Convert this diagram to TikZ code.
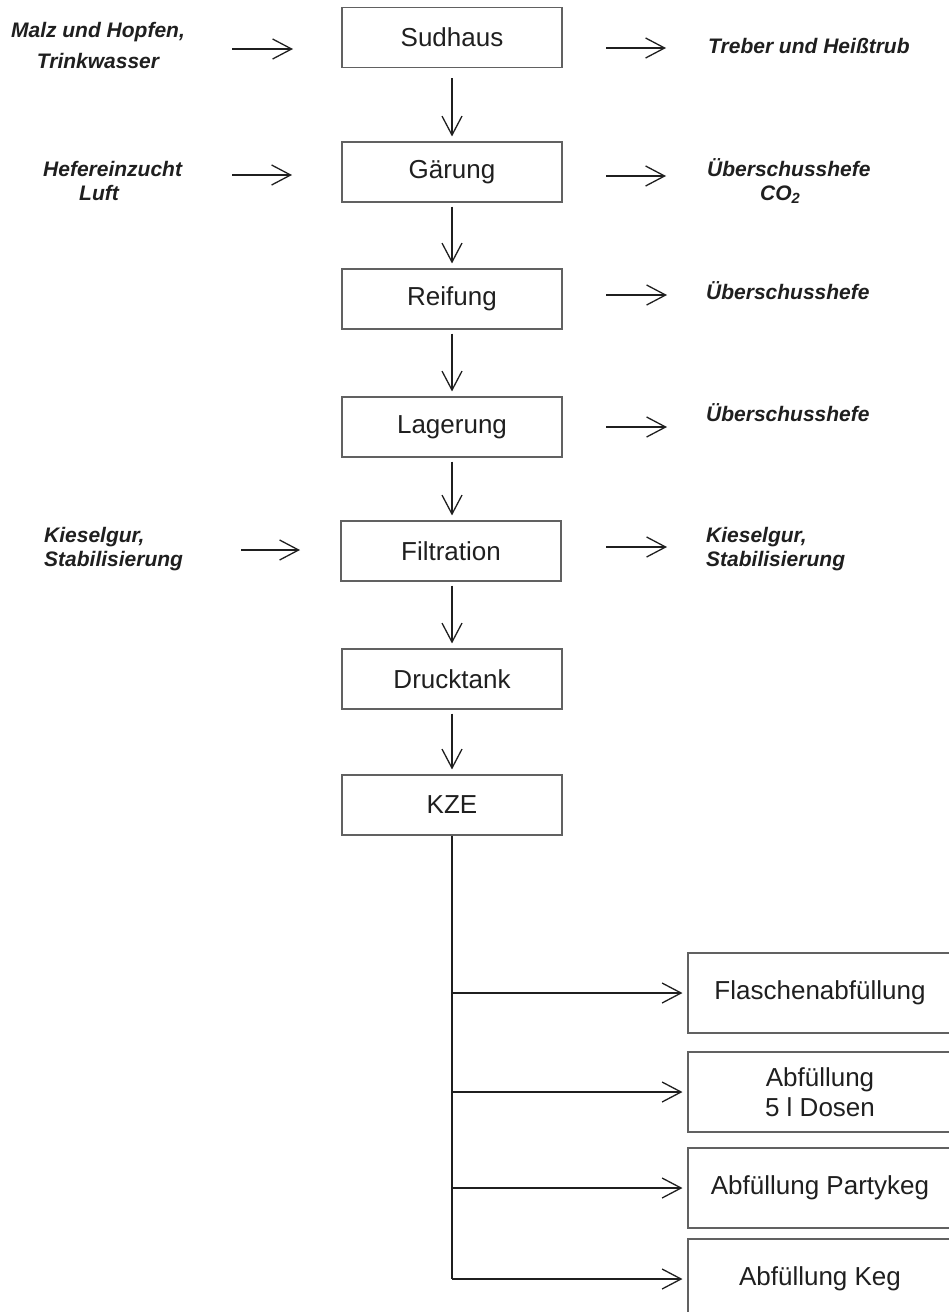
\documentclass[tikz,border=0pt]{standalone}
\usepackage{fontspec}
\setmainfont{Liberation Sans}
\usetikzlibrary{arrows.meta}
\definecolor{ink}{gray}{0.12}
\definecolor{frame}{gray}{0.38}
\begin{document}
\begin{tikzpicture}[x=1pt,y=-1pt,
  stage/.style={draw=frame, line width=1.1pt, minimum width=220pt, minimum height=60pt,
    inner sep=0pt, text=ink, font=\fontsize{26}{30}\selectfont},
  outlet/.style={draw=frame, line width=1.1pt, minimum width=264pt, minimum height=80pt,
    inner sep=0pt, text=ink, align=center, font=\fontsize{26}{30}\selectfont},
  side/.style={inner sep=0pt, text=ink, font=\bfseries\itshape\fontsize{21}{24}\selectfont},
  tip/.style={-{Straight Barb[length=19pt,width=20pt,line width=1.3pt]}, draw=ink},
  down/.style={tip, line width=1.2pt, shorten <=4pt, shorten >=5pt},
  feed/.style={tip, line width=2pt},
  branch/.style={tip, line width=2pt, shorten >=5pt}
]
\useasboundingbox (0,0) rectangle (949,1312);
\clip (0,0) rectangle (949,1312);

% main process chain
\node[stage] (sud) at (452,37.5) {Sudhaus};
\node[stage] (gar) at (452,172)  {Gärung};
\node[stage] (rei) at (452,299)  {Reifung};
\node[stage] (lag) at (452,427)  {Lagerung};
\node[stage] (fil) at (451,551)  {Filtration};
\node[stage] (dru) at (452,679)  {Drucktank};
\node[stage] (kze) at (452,805)  {KZE};

% filling lines (right side runs off the sheet)
\node[outlet] (fla) at (820,993)  {Flaschenabfüllung};
\node[outlet] (dos) at (820,1092) {Abfüllung\\5 l Dosen};
\node[outlet] (pk)  at (820,1188) {Abfüllung Partykeg};
\node[outlet] (keg) at (820,1279) {Abfüllung Keg};

% inputs and outputs
\node[side, align=center] (malz) at (98,45.5) {Malz und Hopfen,\\[7pt]Trinkwasser};
\node[side, anchor=west] (treb) at (708,46) {Treber und Heißtrub};
\node[side, anchor=west, align=left] (hefe) at (43,181) {Hefereinzucht\\\hspace*{36pt}Luft};
\node[side, anchor=west, align=left] (ueb1) at (707,181) {Überschusshefe\\\hspace*{53pt}CO\textsubscript{2}};
\node[side, anchor=west] (ueb2) at (706,291) {Überschusshefe};
\node[side, anchor=west] (ueb3) at (706,413) {Überschusshefe};
\node[side, anchor=west, align=left] (kgin) at (44,549) {Kieselgur,\\Stabilisierung};
\node[side, anchor=west, align=left] (kgout) at (706,549) {Kieselgur,\\Stabilisierung};

% arrow ends beside the stages
\coordinate (in1a) at (232,49);  \coordinate (in1b) at (293,49);
\coordinate (out1a) at (606,48); \coordinate (out1b) at (666,48);
\coordinate (in2a) at (232,175); \coordinate (in2b) at (292,175);
\coordinate (out2a) at (606,176); \coordinate (out2b) at (666,176);
\coordinate (out3a) at (606,295); \coordinate (out3b) at (667,295);
\coordinate (out4a) at (606,427); \coordinate (out4b) at (667,427);
\coordinate (in5a) at (241,550); \coordinate (in5b) at (300,550);
\coordinate (out5a) at (606,547); \coordinate (out5b) at (667,547);

\draw[feed] (in1a) -- (in1b);
\draw[feed] (out1a) -- (out1b);
\draw[feed] (in2a) -- (in2b);
\draw[feed] (out2a) -- (out2b);
\draw[feed] (out3a) -- (out3b);
\draw[feed] (out4a) -- (out4b);
\draw[feed] (in5a) -- (in5b);
\draw[feed] (out5a) -- (out5b);

% downward flow
\draw[down, shorten <=10pt] (sud) -- (gar);
\draw[down] (gar) -- (rei);
\draw[down] (rei) -- (lag);
\draw[down] (lag.south) -- (lag.south |- fil.north);
\draw[down] (fil.south -| dru.north) -- (dru.north);
\draw[down] (dru) -- (kze);

% distribution to the filling lines
\draw[line width=2pt, draw=ink] (kze.south) -- (kze.south |- keg.west);
\draw[branch] (kze.south |- fla.west) -- (fla.west);
\draw[branch] (kze.south |- dos.west) -- (dos.west);
\draw[branch] (kze.south |- pk.west) -- (pk.west);
\draw[branch] (kze.south |- keg.west) -- (keg.west);
\end{tikzpicture}
\end{document}
